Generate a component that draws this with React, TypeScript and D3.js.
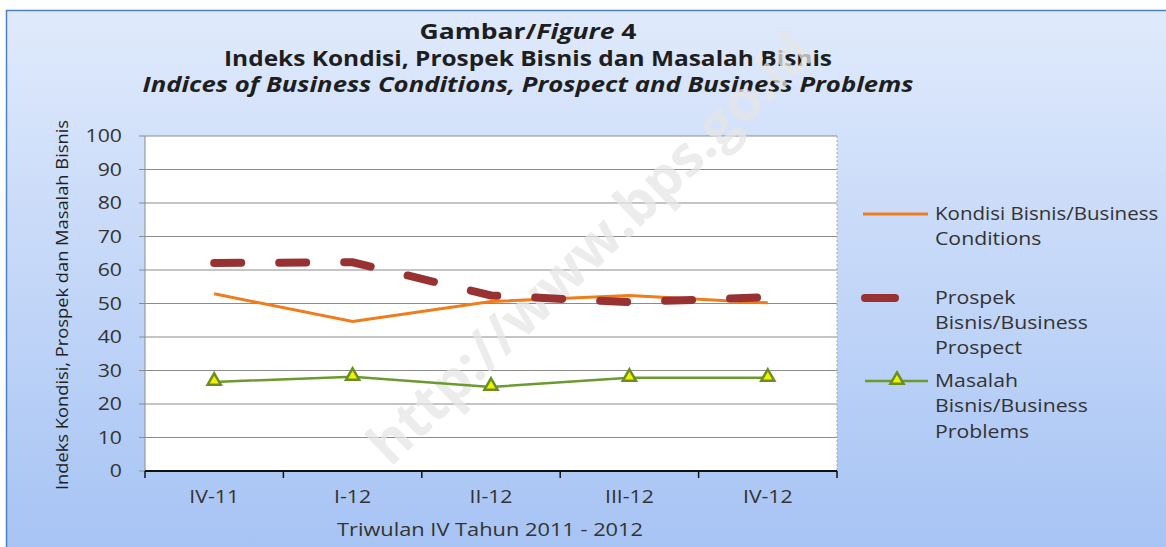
import React from "react";
import * as d3 from "d3";

const categories = ["IV-11", "I-12", "II-12", "III-12", "IV-12"];
const kondisi = [52.9, 44.6, 50.6, 52.4, 50.2];
const prospek = [62.1, 62.3, 52.4, 50.4, 51.9];
const masalah = [26.6, 28.1, 25.1, 27.8, 27.8];
const yTicks = [0, 10, 20, 30, 40, 50, 60, 70, 80, 90, 100];

const W = 1166;
const H = 547;
const FONT = "'Open Sans', 'Noto Sans', sans-serif";
const TXT = "#333";
const SX = 1.18;

function T(props: {
  x: number;
  y: number;
  size?: number;
  anchor?: string;
  weight?: string;
  italic?: boolean;
  fill?: string;
  sx?: number;
  children: React.ReactNode;
}) {
  const { x, y, size = 18, anchor = "start", weight = "normal", italic = false, fill = TXT, sx = SX } = props;
  return (
    <text
      transform={`translate(${x},${y}) scale(${sx},1)`}
      textAnchor={anchor}
      fontSize={size}
      fontWeight={weight}
      fontStyle={italic ? "italic" : "normal"}
      fill={fill}
      dy="0.35em"
    >
      {props.children}
    </text>
  );
}

export default function App() {
  const left = 145, right = 837, top = 136, bottom = 471;
  const x = d3.scaleBand<string>().domain(categories).range([left, right]);
  const y = d3.scaleLinear().domain([0, 100]).range([bottom, top]);
  const cx = (c: string) => (x(c) as number) + x.bandwidth() / 2;
  const line = d3
    .line<number>()
    .x((_, i) => cx(categories[i]))
    .y((d) => y(d));
  const tri = d3.symbol().type(d3.symbolTriangle).size(75);

  const boundaries = d3.range(categories.length + 1).map((i) => left + i * x.bandwidth());

  return (
    <div style={{ position: "absolute", left: 0, top: 0 }}>
      <svg width={W} height={H} style={{ display: "block" }} fontFamily={FONT}>
        <defs>
          <linearGradient id="bg" x1="0" y1="0" x2="0" y2="1">
            <stop offset="0" stopColor="#e0eafc" />
            <stop offset="1" stopColor="#a6c3f4" />
          </linearGradient>
        </defs>
        <rect x={0} y={0} width={W} height={H} fill="#fff" />
        <rect x={6.5} y={10.5} width={W} height={H} fill="url(#bg)" stroke="#4f81bd" strokeWidth={1.5} />

        {/* Titles */}
        <text x={528} y={39} textAnchor="middle" fontSize={21} fontWeight="bold" fill="#1e1e1e" textLength={217} lengthAdjust="spacingAndGlyphs">
          Gambar/<tspan fontStyle="italic">Figure</tspan>{"  "}4
        </text>
        <text x={528} y={66} textAnchor="middle" fontSize={21} fontWeight="bold" fill="#1e1e1e" textLength={608} lengthAdjust="spacingAndGlyphs">
          Indeks Kondisi, Prospek Bisnis dan Masalah Bisnis
        </text>
        <text x={528} y={92} textAnchor="middle" fontSize={21} fontWeight="bold" fontStyle="italic" fill="#1e1e1e" textLength={771} lengthAdjust="spacingAndGlyphs">
          Indices of Business Conditions, Prospect and Business Problems
        </text>

        {/* Plot area */}
        <rect x={left} y={top} width={right - left} height={bottom - top} fill="#fff" />
        {yTicks.map((t) => (
          <g key={t}>
            {t > 0 && (
              <line x1={left} x2={right} y1={y(t)} y2={y(t)} stroke="#8c8c8c" strokeWidth={1.2} />
            )}
            <line x1={left - 6} x2={left} y1={y(t)} y2={y(t)} stroke="#8c8c8c" strokeWidth={1} />
            <T x={122} y={y(t)} anchor="end">
              {t}
            </T>
          </g>
        ))}
        <line x1={right} x2={right} y1={top} y2={bottom} stroke="#aaa" strokeDasharray="2,2" />
        <line x1={left} x2={left} y1={top} y2={bottom} stroke="#8c8c8c" strokeWidth={1} />

        {/* Watermark */}
        <text
          x={0}
          y={0}
          dy="0.35em"
          transform="translate(590,248) rotate(-44)"
          textAnchor="middle"
          fontSize={56}
          fontWeight="bold"
          fill="#e6e6e6"
          opacity={0.75}
        >
          http://www.bps.go.id
        </text>

        <line x1={left} x2={right} y1={bottom} y2={bottom} stroke="#111" strokeWidth={2} />
        {boundaries.map((b, i) => (
          <line key={i} x1={b} x2={b} y1={bottom} y2={bottom + 7} stroke="#111" strokeWidth={1.5} />
        ))}
        {categories.map((c) => (
          <T key={c} x={cx(c)} y={497} anchor="middle">
            {c}
          </T>
        ))}

        {/* Series */}
        <path d={line(kondisi) || ""} fill="none" stroke="#f07c1a" strokeWidth={3} />
        <path
          d={line(prospek) || ""}
          fill="none"
          stroke="#983232"
          strokeWidth={8}
          strokeLinecap="round"
          strokeDasharray="27,38"
        />
        <path d={line(masalah) || ""} fill="none" stroke="#6b9a2e" strokeWidth={2.5} />
        {masalah.map((v, i) => (
          <path
            key={i}
            d={tri() || ""}
            transform={`translate(${cx(categories[i])},${y(v) - 1})`}
            fill="#f2f200"
            stroke="#6b8e23"
            strokeWidth={2.5}
          />
        ))}

        {/* Axis titles */}
        <text
          transform="translate(62,305) rotate(-90)"
          textAnchor="middle"
          dy="0.35em"
          fontSize={17}
          fill="#222"
          textLength={370}
          lengthAdjust="spacingAndGlyphs"
        >
          Indeks Kondisi, Prospek  dan Masalah Bisnis
        </text>
        <text x={490} y={530} dy="0.35em" textAnchor="middle" fontSize={18} fill={TXT} textLength={306} lengthAdjust="spacingAndGlyphs">
          Triwulan IV Tahun 2011 - 2012
        </text>

        {/* Legend */}
        <line x1={863} x2={928} y1={214} y2={214} stroke="#f07c1a" strokeWidth={3} />
        <T x={935} y={214} sx={1.14}>Kondisi Bisnis/Business</T>
        <T x={935} y={239}>Conditions</T>

        <line x1={865} x2={895} y1={298} y2={298} stroke="#983232" strokeWidth={8} strokeLinecap="round" />
        <T x={935} y={298}>Prospek</T>
        <T x={935} y={323}>Bisnis/Business</T>
        <T x={935} y={348}>Prospect</T>

        <line x1={865} x2={928} y1={381} y2={381} stroke="#6b9a2e" strokeWidth={2.5} />
        <path
          d={tri() || ""}
          transform="translate(897,380)"
          fill="#f2f200"
          stroke="#6b8e23"
          strokeWidth={2.5}
        />
        <T x={935} y={381}>Masalah</T>
        <T x={935} y={406}>Bisnis/Business</T>
        <T x={935} y={432}>Problems</T>
      </svg>
    </div>
  );
}
